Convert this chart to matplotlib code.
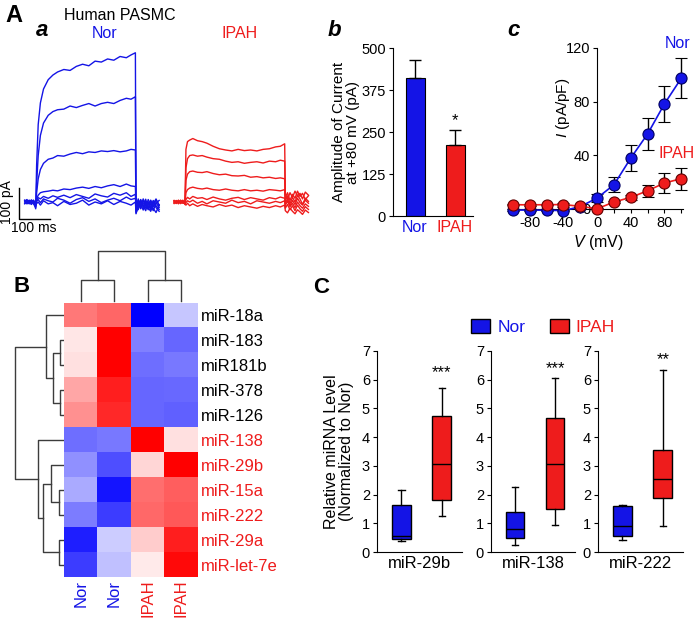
import matplotlib
matplotlib.use("Agg")
import matplotlib.pyplot as plt
from matplotlib.patches import Patch

plt.rcParams['font.family'] = ['Liberation Sans', 'DejaVu Sans']
plt.rcParams['mathtext.fontset'] = 'custom'
plt.rcParams['mathtext.rm'] = 'Liberation Sans'
plt.rcParams['mathtext.it'] = 'Liberation Sans:italic'

BLUE = '#1414e6'
RED = '#ee1c1c'
DENDRO = '#3c3c3c'

# ---- panel A a: current traces (pA) sampled at these times (ms)
t_ms = [-35, -28, -21, -14, -7, 0,
        3, 8, 15, 25, 40, 55, 70, 90, 110, 130, 150, 170, 190, 210, 230, 250, 270, 290, 305, 319,
        321, 328, 336, 344, 352, 360, 368, 376, 385, 395]

nor_sweeps = [
    [4, -5, 6, -3, 5, -22,
     120, 250, 320, 365, 395, 410, 420, 428, 425, 438, 445, 440, 455, 452, 462, 458, 470, 466, 475, 482,
     -38, -12, 6, -18, 9, -22, 4, -14, 7, -9],
    [-3, 6, -4, 5, -6, -18,
     60, 150, 215, 255, 280, 292, 298, 300, 310, 305, 312, 318, 310, 318, 322, 318, 328, 335, 332, 340,
     -30, 5, -20, 10, -8, -25, 6, -15, -2, -18],
    [5, -2, 3, -7, 2, -15,
     30, 75, 105, 125, 138, 142, 150, 148, 155, 160, 156, 162, 160, 165, 163, 166, 162, 165, 170, 168,
     -25, -8, 8, -12, -28, 0, -20, 5, -12, -24],
    [-6, 3, -5, 7, -2, -10,
     10, 22, 30, 33, 35, 38, 36, 42, 40, 45, 48, 44, 50, 46, 52, 56, 50, 58, 52, 50,
     -20, 10, -15, -5, 3, -18, -30, -6, 10, -12],
    [2, 8, -6, 2, 6, -8,
     5, 14, 10, 18, 12, 20, 15, 22, 14, 24, 18, 12, 26, 20, 16, 28, 22, 30, 18, 25,
     -15, -25, 0, -10, -20, 8, -8, -28, -4, 5],
    [-4, 0, 5, -8, 4, -12,
     2, 8, -2, 10, 4, 0, 12, 6, -4, 8, 14, 2, 10, -2, 6, 12, 4, 16, 8, 12,
     -10, -2, -22, 6, -14, -4, -26, 2, -18, -30],
    [6, -6, 0, 4, -6, -5,
     -5, 0, -10, 4, -6, -2, -12, 2, -8, -4, 6, -10, 0, -6, 4, -8, 2, -4, -10, 0,
     -35, -18, -6, -26, -2, -16, -8, -20, -34, -10],
]

ipah_sweeps = [
    [3, -4, 5, -3, 2, -5,
     170, 195, 200, 205, 198, 195, 190, 180, 172, 168, 165, 170, 166, 168, 165, 170, 172, 178, 180, 188,
     25, 8, 30, 15, 35, 20, 28, 10, 32, 22],
    [-2, 5, -4, 6, -3, -4,
     110, 140, 150, 152, 148, 150, 145, 140, 138, 132, 128, 130, 125, 128, 130, 126, 132, 130, 135, 132,
     15, 30, 5, 25, 12, 35, 18, 28, 8, 20],
    [4, -3, 6, -5, 3, -6,
     70, 90, 98, 100, 96, 95, 98, 92, 88, 90, 85, 84, 86, 80, 82, 78, 80, 76, 78, 75,
     5, 20, -5, 15, 0, 22, 10, -8, 12, 2],
    [-5, 4, -2, 5, -4, -3,
     30, 40, 45, 48, 44, 42, 45, 40, 38, 42, 38, 36, 40, 36, 38, 35, 40, 38, 36, 40,
     -5, 10, -12, 5, -8, 12, -2, -10, 6, -4],
    [2, -5, 4, -2, 6, -4,
     8, 15, 10, 18, 12, 14, 8, 16, 10, 6, 12, 15, 8, 14, 10, 6, 14, 10, 16, 12,
     -10, 2, -15, -4, -18, 0, -12, -20, -6, -14],
    [-3, 3, -6, 4, -2, -6,
     -2, 4, 0, 6, -4, 2, -6, 4, 0, -4, 6, -2, 2, -6, 4, 0, -4, 2, -2, 4,
     -20, -8, -25, -12, -28, -10, -22, -30, -15, -24],
    [5, -2, 2, -5, 4, -8,
     -10, -4, -12, -6, -14, -8, -12, -16, -8, -14, -10, -18, -12, -16, -20, -14, -18, -12, -16, -10,
     -28, -35, -20, -30, -38, -25, -32, -40, -26, -34],
]

# ---- panel A b: amplitude at +80 mV
groups = ['Nor', 'IPAH']
amp_mean = [410, 210]
amp_err = [55, 45]

# ---- panel A c: I-V curve
volts = [-100, -80, -60, -40, -20, 0, 20, 40, 60, 80, 100]
iv_nor = [-0.8, -0.8, -0.9, -1.2, 1.8, 8.2, 18.1, 38, 56, 78.4, 97.5]
iv_nor_err = [0.5, 0.5, 0.5, 0.5, 1, 3, 5.8, 10, 12, 13.6, 15]
iv_ipah = [3.2, 3.1, 3.2, 3.3, 2.0, 0.2, 5.2, 8.7, 13.6, 19.4, 22.6]
iv_ipah_err = [0.5, 0.5, 0.5, 1.5, 0.8, 0.5, 1, 2, 4.3, 7.4, 8.3]

# ---- panel B: heat map
mirnas = ['miR-18a', 'miR-183', 'miR181b', 'miR-378', 'miR-126', 'miR-138',
          'miR-29b', 'miR-15a', 'miR-222', 'miR-29a', 'miR-let-7e']
mirna_colors = ['black'] * 5 + [RED] * 6
samples = ['Nor', 'Nor', 'IPAH', 'IPAH']
heat_values = [
    [0.53, 0.60, -1.00, -0.22],
    [0.10, 1.00, -0.50, -0.60],
    [0.12, 1.00, -0.57, -0.53],
    [0.35, 0.88, -0.60, -0.59],
    [0.43, 0.84, -0.60, -0.62],
    [-0.57, -0.53, 1.00, 0.12],
    [-0.43, -0.69, 0.16, 1.00],
    [-0.33, -0.92, 0.57, 0.63],
    [-0.51, -0.76, 0.59, 0.65],
    [-0.88, -0.20, 0.20, 0.88],
    [-0.76, -0.25, 0.08, 0.96],
]
# merges: (child a, child b, height); new clusters numbered after the leaves
col_merges = [(0, 1, 0.43), (2, 3, 0.43), (4, 5, 0.98)]
row_merges = [(1, 2, 0.08), (3, 4, 0.08), (11, 12, 0.22), (0, 13, 0.36),
              (7, 8, 0.10), (6, 15, 0.26), (9, 10, 0.10), (16, 17, 0.42),
              (5, 18, 0.52), (14, 19, 0.98)]

# ---- panel C: box plots (whisker low, q1, median, q3, whisker high)
box_genes = ['miR-29b', 'miR-138', 'miR-222']
box_nor = [[0.40, 0.45, 0.55, 1.65, 2.15],
           [0.25, 0.48, 0.80, 1.40, 2.25],
           [0.42, 0.55, 0.90, 1.60, 1.65]]
box_ipah = [[1.25, 1.80, 3.05, 4.75, 5.70],
            [0.95, 1.50, 3.07, 4.65, 6.07],
            [0.90, 1.88, 2.55, 3.55, 6.35]]
box_stars = ['***', '***', '**']
star_y = [6.25, 6.4, 6.7]

W, H = 697, 621
fig = plt.figure(figsize=(W / 100, H / 100), dpi=100)


def add_ax(l, t, r, b):
    return fig.add_axes([l / W, 1 - b / H, (r - l) / W, (b - t) / H])


def ftext(x, y, s, **kw):
    kw.setdefault('va', 'center')
    kw.setdefault('ha', 'center')
    fig.text(x / W, 1 - y / H, s, **kw)


# ================= A a =================
MS_PX, PA_PX = 3.2, 3.23


def trace_ax(l, t, r, b, x0, y0):
    ax = add_ax(l, t, r, b)
    ax.set_xlim((l - x0) * MS_PX, (r - x0) * MS_PX)
    ax.set_ylim((y0 - b) * PA_PX, (y0 - t) * PA_PX)
    ax.axis('off')
    return ax


ax_n = trace_ax(12, 40, 165, 225, 35.7, 202)
for sw in nor_sweeps:
    ax_n.plot(t_ms, sw, color=BLUE, lw=1.0)
# scale bar 100 pA / 100 ms
ax_n.plot([-53, -53, 47], [45, -55, -55], color='black', lw=1.0, clip_on=False)

ax_i = trace_ax(168, 40, 312, 225, 185, 202)
for sw in ipah_sweeps:
    ax_i.plot(t_ms, sw, color=RED, lw=1.0)

ftext(7, 202, '100 pA', rotation=90, fontsize=10)
ftext(34, 228, '100 ms', fontsize=10)
ftext(120, 15, 'Human PASMC', fontsize=11.5)
ftext(105, 34, 'Nor', fontsize=11.5, color=BLUE)
ftext(240, 34, 'IPAH', fontsize=11.5, color=RED)
ftext(14, 16, 'A', fontsize=17, fontweight='bold')
ftext(42, 31, 'a', fontsize=16, fontweight='bold', style='italic')
ftext(334, 30, 'b', fontsize=16, fontweight='bold', style='italic')
ftext(514, 30, 'c', fontsize=16, fontweight='bold', style='italic')

# ================= A b =================
axb = add_ax(393, 48, 473, 216)
axb.bar([0, 1], amp_mean, width=0.475, color=[BLUE, RED], edgecolor='black', lw=0.8)
axb.errorbar([0, 1], amp_mean, yerr=[[0, 0], amp_err], fmt='none', ecolor='black',
             elinewidth=1, capsize=4)
axb.text(1, amp_mean[1] + amp_err[1] + 8, '*', ha='center', va='bottom', fontsize=12)
axb.set_xlim(-0.55, 1.45)
axb.set_ylim(0, 500)
axb.set_yticks([0, 125, 250, 375, 500])
axb.set_xticks([0, 1])
axb.set_xticklabels(groups, fontsize=11.5)
for lbl, c in zip(axb.get_xticklabels(), [BLUE, RED]):
    lbl.set_color(c)
axb.tick_params(axis='x', length=0, pad=3)
axb.tick_params(axis='y', labelsize=10.5, length=3, pad=2)
for s in ['top', 'right']:
    axb.spines[s].set_visible(False)
axb.set_ylabel('Amplitude of Current\nat +80 mV (pA)', fontsize=11, linespacing=1.0)
axb.yaxis.set_label_coords(-0.41, 0.5)

# ================= A c =================
axc = add_ax(513, 48, 683, 209)
axc.errorbar(volts, iv_nor, yerr=iv_nor_err, fmt='-o', color=BLUE, lw=1.2, ms=8,
             mfc=BLUE, mec='#000060', mew=0.8, ecolor='black', elinewidth=1, capsize=4,
             clip_on=False, zorder=3)
axc.errorbar(volts, iv_ipah, yerr=iv_ipah_err, fmt='-o', color=RED, lw=1.2, ms=8,
             mfc=RED, mec='#600000', mew=0.8, ecolor='black', elinewidth=1, capsize=4,
             clip_on=False, zorder=4)
axc.set_xlim(-100, 102)
axc.set_ylim(0, 120)
axc.spines['left'].set_position(('data', 0))
for s in ['top', 'right']:
    axc.spines[s].set_visible(False)
axc.set_xticks(volts)
axc.set_xticklabels(['' if v not in (-80, -40, 0, 40, 80) else str(v) for v in volts])
axc.set_yticks([0, 40, 80, 120])
axc.tick_params(labelsize=10.5, length=3, pad=2)
axc.set_xlabel(r'$V$ (mV)', fontsize=11.5, labelpad=2)
axc.set_ylabel(r'$I$ (pA/pF)', fontsize=11)
axc.yaxis.set_label_coords(0.345, 0.63)
ftext(678, 43, 'Nor', fontsize=11.5, color=BLUE)
ftext(677, 153, 'IPAH', fontsize=11.5, color=RED)

# ================= B =================
ftext(22, 286, 'B', fontsize=16, fontweight='bold')


def draw_dendro(ax, merges, n_leaves, leaf_h, vertical):
    pos = {i: i + 0.5 for i in range(n_leaves)}
    hgt = {i: leaf_h for i in range(n_leaves)}
    for k, (a, b, h) in enumerate(merges):
        p = [pos[a], pos[a], pos[b], pos[b]]
        q = [hgt[a], h, h, hgt[b]]
        if vertical:
            ax.plot(p, q, color=DENDRO, lw=1.0)
        else:
            ax.plot(q, p, color=DENDRO, lw=1.0)
        pos[n_leaves + k] = (pos[a] + pos[b]) / 2
        hgt[n_leaves + k] = h


axh = add_ax(64, 303, 198, 577)
axh.imshow(heat_values, cmap='bwr', vmin=-1, vmax=1, aspect='auto',
           extent=(0, 4, 11, 0), interpolation='nearest')
axh.set_yticks([i + 0.5 for i in range(len(mirnas))])
axh.set_yticklabels(mirnas, fontsize=12)
axh.yaxis.tick_right()
for lbl, c in zip(axh.get_yticklabels(), mirna_colors):
    lbl.set_color(c)
axh.set_xticks([i + 0.5 for i in range(len(samples))])
axh.set_xticklabels(samples, rotation=90, fontsize=12)
for lbl, c in zip(axh.get_xticklabels(), [BLUE, BLUE, RED, RED]):
    lbl.set_color(c)
axh.tick_params(length=0, pad=2)
for s in axh.spines.values():
    s.set_visible(False)

axcd = add_ax(64, 250, 198, 303)
draw_dendro(axcd, col_merges, 4, 0.04, True)
axcd.set_xlim(0, 4)
axcd.set_ylim(0, 1)
axcd.axis('off')

axrd = add_ax(14, 303, 64, 577)
draw_dendro(axrd, row_merges, 11, 0.02, False)
axrd.set_xlim(1, 0)
axrd.set_ylim(11, 0)
axrd.axis('off')

# ================= C =================
ftext(321, 287, 'C', fontsize=16, fontweight='bold')
box_px = [(377, 462), (491, 575), (598, 683)]
for k, (l, r) in enumerate(box_px):
    ax = add_ax(l, 351, r, 552)
    stats = []
    for vals in (box_nor[k], box_ipah[k]):
        lo, q1, med, q3, hi = vals
        stats.append(dict(whislo=lo, q1=q1, med=med, q3=q3, whishi=hi, fliers=[]))
    bp = ax.bxp(stats, positions=[1, 2], widths=0.47, patch_artist=True,
                showfliers=False,
                boxprops=dict(edgecolor='black', lw=1.0),
                medianprops=dict(color='black', lw=1.0),
                whiskerprops=dict(color='black', lw=1.0),
                capprops=dict(color='black', lw=1.0), capwidths=0.16)
    for patch, c in zip(bp['boxes'], [BLUE, RED]):
        patch.set_facecolor(c)
    ax.text(2, star_y[k], box_stars[k], ha='center', va='center', fontsize=12)
    ax.set_xlim(0.4, 2.5)
    ax.set_ylim(0, 7)
    ax.set_yticks(range(8))
    ax.set_xticks([])
    ax.tick_params(axis='y', labelsize=10.5, length=3, pad=2)
    for s in ['top', 'right']:
        ax.spines[s].set_visible(False)
    ax.set_xlabel(box_genes[k], fontsize=12, labelpad=3)
    if k == 0:
        ax.set_ylabel('Relative miRNA Level\n(Normalized to Nor)', fontsize=11.5,
                      linespacing=1.0)
        ax.yaxis.set_label_coords(-0.27, 0.5)

handles = [Patch(facecolor=BLUE, edgecolor='black'), Patch(facecolor=RED, edgecolor='black')]
fig.legend(handles, groups, loc='center', bbox_to_anchor=(543 / W, 1 - 327 / H), ncol=2,
           frameon=False, fontsize=12.5, labelcolor=[BLUE, RED], handlelength=1.1,
           handleheight=0.9, handletextpad=0.4, columnspacing=1.4)

fig.savefig('out.png', dpi=100)
